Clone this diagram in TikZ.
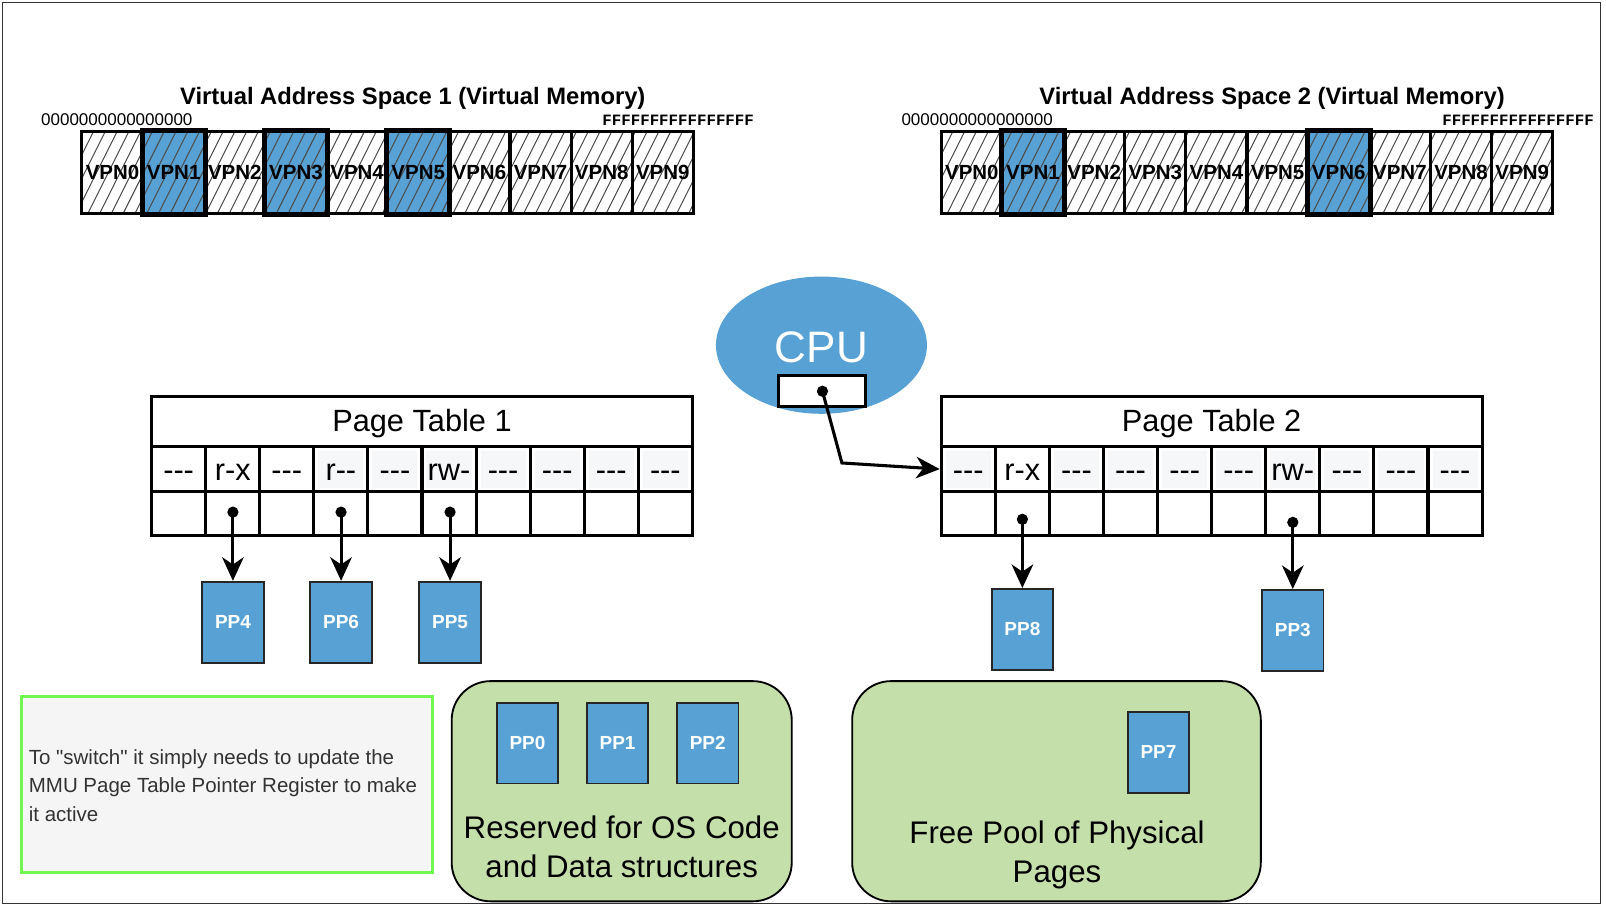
\documentclass[tikz,border=0pt]{standalone}
\usepackage{fontspec}
\setmainfont{Liberation Sans}[Ligatures=TeXOff]
\newfontfamily\monof{Liberation Mono}[Ligatures=TeXOff]
\usetikzlibrary{arrows.meta,shapes.geometric}
\definecolor{pblue}{RGB}{87,161,212}
\definecolor{greenfill}{RGB}{196,223,170}
\definecolor{notebg}{RGB}{245,245,245}
\definecolor{notegreen}{RGB}{112,248,80}
\definecolor{permbg}{RGB}{246,247,249}
\definecolor{notetext}{RGB}{51,51,51}
\begin{document}
\begin{tikzpicture}[x=1pt,y=-1pt,
  vcell/.style={draw=black, line width=3pt, minimum width=59.7pt, minimum height=80pt, inner sep=0pt,
    font=\bfseries\fontsize{20}{24}\selectfont},
  hatchline/.style={draw=black!70, line width=1pt},
  ptbox/.style={draw=black, line width=3pt, inner sep=0pt},
  permcell/.style={ptbox, minimum width=52.8pt, minimum height=44pt, text height=21.6pt, text depth=0pt,
    font=\fontsize{30}{34}\selectfont},
  ptrow/.style={ptbox, minimum width=52.8pt, minimum height=43pt},
  ppbox/.style={draw=black!85, line width=1.8pt, fill=pblue, minimum width=60pt, minimum height=79pt,
    inner sep=0pt, text=white, font=\bfseries\fontsize{18.5}{22}\selectfont},
  arr/.style={line width=3pt, -{Stealth[length=23pt,width=21pt,inset=7pt]}},
  titlefont/.style={font=\bfseries\fontsize{23.2}{27}\selectfont, inner sep=0pt},
  zerofont/.style={font=\fontsize{16.6}{18}\selectfont, anchor=west, inner sep=0pt},
  ffont/.style={font=\monof\bfseries\fontsize{15.4}{18}\selectfont, anchor=west, inner sep=0pt},
  greenbox/.style={draw=black, line width=1.8pt, fill=greenfill, rounded corners=38pt, minimum height=215pt},
  bigtext/.style={align=center, font=\fontsize{30.5}{38}\selectfont, inner sep=0pt},
  pttitle/.style={font=\fontsize{30}{34}\selectfont, inner sep=0pt}
]
\useasboundingbox (0,0) rectangle (1568,884);
\draw[line width=1pt, black!80] (2,2) rectangle (1563,882);

% ---------- titles and address labels ----------
\node[titlefont] (t1) at (403,96) {Virtual Address Space 1 (Virtual Memory)};
\node[titlefont] (t2) at (1242,96) {Virtual Address Space 2 (Virtual Memory)};
\node[zerofont] (z1) at (40,117) {0000000000000000};
\node[ffont] (f1) at (588,117) {FFFFFFFFFFFFFFFF};
\node[zerofont] (z2) at (880,117) {0000000000000000};
\node[ffont] (f2) at (1408,117) {FFFFFFFFFFFFFFFF};

% ---------- strip 1 ----------
\foreach \i in {1,3,5} \fill[pblue] ({80+59.7*\i},128) rectangle ({80+59.7*(\i+1)},208);
\begin{scope}
  \clip (80,128) rectangle (677,208);
  \foreach \k in {0,...,56} \draw[hatchline] ({40+\k*11.5},208) -- ++(40,-80);
\end{scope}
\foreach \i in {0,...,9} \node[vcell] (a\i) at ({80+59.7*(\i+0.5)},168) {VPN\i};
\foreach \i in {1,3,5} \draw[line width=3.8pt] (a\i.north west) rectangle (a\i.south east);

% ---------- strip 2 ----------
\foreach \i in {1,6} \fill[pblue] ({919+59.7*\i},128) rectangle ({919+59.7*(\i+1)},208);
\begin{scope}
  \clip (919,128) rectangle (1516,208);
  \foreach \k in {0,...,56} \draw[hatchline] ({879+\k*11.5},208) -- ++(40,-80);
\end{scope}
\foreach \i in {0,...,9} \node[vcell] (b\i) at ({919+59.7*(\i+0.5)},168) {VPN\i};
\foreach \i in {1,6} \draw[line width=3.8pt] (b\i.north west) rectangle (b\i.south east);

% ---------- CPU ----------
\node[ellipse, fill=pblue, minimum width=206pt, minimum height=134pt, inner sep=0pt] (cpu) at (802,337) {};
\node[text=white, font=\fontsize{43}{50}\selectfont, inner sep=0pt] (cputxt) at (802,339) {CPU};
\node[draw=black, line width=3pt, fill=white, minimum width=85pt, minimum height=30pt, inner sep=0pt] (reg) at (802.5,382) {};
\coordinate (regdot) at (803,382);
\fill (regdot) circle (5.5);

% ---------- Page Table 1 ----------
\foreach \c in {3,4,5,6,7,8,9} \fill[permbg] ({148+52.8*(\c+0.5)-22},440) rectangle ({148+52.8*(\c+0.5)+22},476);
\node[ptbox, minimum width=528pt, minimum height=49pt] (pt1) at (412,411.5) {};
\node[pttitle] (pt1txt) at (412,414) {Page Table 1};
\foreach \l [count=\i from 0] in {---,r-x,---,r--,---,rw-,---,---,---,---}
  \node[permcell] (pt1p\i) at ({148+52.8*(\i+0.5)},458) {\l};
\foreach \i in {0,...,9} \node[ptrow] (pt1b\i) at ({148+52.8*(\i+0.5)},501.5) {};

% ---------- Page Table 2 ----------
\foreach \c in {0,2,3,4,5,6,7,8,9} \fill[permbg] ({919+52.8*(\c+0.5)-22},440) rectangle ({919+52.8*(\c+0.5)+22},476);
\node[ptbox, minimum width=528pt, minimum height=49pt] (pt2) at (1183,411.5) {};
\node[pttitle] (pt2txt) at (1183,414) {Page Table 2};
\foreach \l [count=\i from 0] in {---,r-x,---,---,---,---,rw-,---,---,---}
  \node[permcell] (pt2p\i) at ({919+52.8*(\i+0.5)},458) {\l};
\foreach \i in {0,...,9} \node[ptrow] (pt2b\i) at ({919+52.8*(\i+0.5)},501.5) {};

% ---------- mapped physical pages ----------
\node[ppbox] (pp4) at (227.4,607.5) {PP4};
\node[ppbox] (pp6) at (333,607.5) {PP6};
\node[ppbox] (pp5) at (439.4,607.5) {PP5};
\node[ppbox] (pp8) at (998.2,614.5) {PP8};
\node[ppbox] (pp3) at (1262.2,615.5) {PP3};

\coordinate (d1) at (227.4,500);
\coordinate (d3) at (333,500);
\coordinate (d5) at (439.4,500);
\coordinate (e1) at (998.2,507);
\coordinate (e6) at (1262.2,510);
\foreach \d/\p in {d1/pp4,d3/pp6,d5/pp5,e1/pp8,e6/pp3} {
  \fill (\d) circle (5.5);
  \draw[arr] (\d) -- (\p.north);
}

% CPU register pointer to Page Table 2
\coordinate (bend) at (822,452);
\draw[arr] (regdot) -- (bend) -- (pt2p0.west);

% ---------- note ----------
\node[draw=notegreen, line width=3pt, fill=notebg, minimum width=401pt, minimum height=172pt, inner sep=0pt] (note) at (221.5,766) {};
\node[anchor=west, align=left, text=notetext, font=\fontsize{20}{27.5}\selectfont, inner sep=0pt] (notetxt) at (28,767)
  {To "switch" it simply needs to update the\\MMU Page Table Pointer Register to make\\it active};

% ---------- reserved ----------
\node[greenbox, minimum width=332pt] (res) at (607,772.5) {};
\node[ppbox] (pp0) at (515,725.5) {PP0};
\node[ppbox] (pp1) at (603,725.5) {PP1};
\node[ppbox] (pp2) at (691,725.5) {PP2};
\node[bigtext] (restxt) at (607,827) {Reserved for OS Code\\and Data structures};

% ---------- free pool ----------
\node[greenbox, minimum width=399pt] (free) at (1031.5,772.5) {};
\node[ppbox] (pp7) at (1131,734.5) {PP7};
\node[bigtext] (freetxt) at (1032,835) {Free Pool of Physical\\Pages};
\end{tikzpicture}
\end{document}
